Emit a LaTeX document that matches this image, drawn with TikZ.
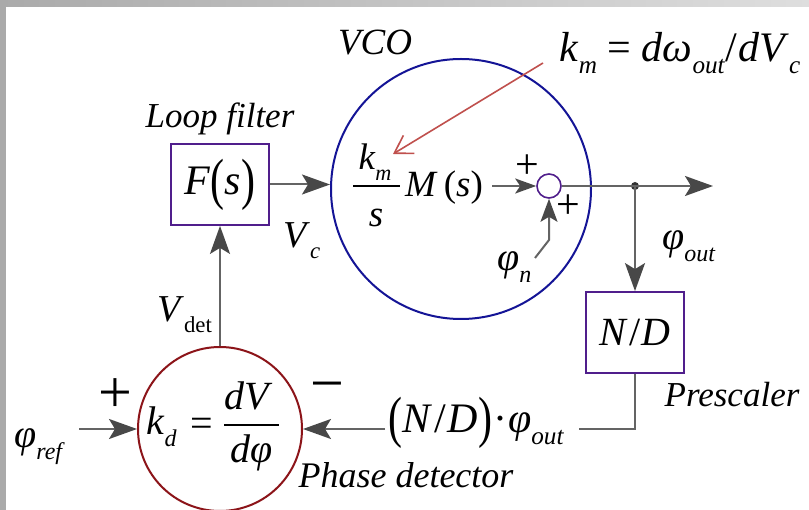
\documentclass[tikz,border=0pt]{standalone}
\usepackage{fontspec}
\setmainfont{Liberation Serif}
\usepackage{graphicx}
\usetikzlibrary{arrows.meta}
\definecolor{boxpurple}{RGB}{80,30,140}
\definecolor{vcoblue}{RGB}{20,20,150}
\definecolor{pdred}{RGB}{140,20,25}
\definecolor{linegray}{RGB}{100,100,100}
\definecolor{tipgray}{RGB}{72,72,72}
\definecolor{redc}{RGB}{192,80,77}
\definecolor{dotgray}{RGB}{50,50,50}
\definecolor{topl}{RGB}{170,170,170}
\definecolor{topr}{RGB}{222,222,222}
\definecolor{sidegray}{RGB}{170,170,170}
\newcommand\vi[1]{\textit{#1}}
\newcommand\sbi[1]{\raisebox{-0.28em}{\scalebox{0.6}{\itshape #1}}}
\newcommand\sbu[1]{\raisebox{-0.28em}{\scalebox{0.6}{#1}}}
\newcommand\tallp[1]{\raisebox{-0.09em}{\scalebox{1}[1.35]{#1}}}
\tikzset{
  conn/.style={draw=linegray, line width=2pt},
  arr/.style={conn, -{Stealth[length=28pt,width=20pt,inset=6pt,color=tipgray]}},
  arrsm/.style={conn, -{Stealth[length=21pt,width=15pt,inset=5pt,color=tipgray]}},
  arrmid/.style={conn, -{Stealth[length=23pt,width=17pt,inset=5pt,color=tipgray]}},
  blockbox/.style={draw=boxpurple, line width=1.8pt, minimum width=98pt, minimum height=81pt, inner sep=0pt, fill=white},
  lbl/.style={font=\fontsize{35}{40}\selectfont\itshape, inner sep=0pt},
  mth/.style={font=\fontsize{40}{48}\selectfont, inner sep=0pt},
  mthv/.style={font=\fontsize{37}{44}\selectfont, inner sep=0pt},
  fracbar/.style={draw=black, line width=1.4pt},
  redarr/.style={draw=redc, line width=1.6pt, -{Straight Barb[length=17pt,width=21pt]}},
  bigsign/.style={font=\fontsize{60}{60}\selectfont, inner sep=0pt},
  smallsign/.style={font=\fontsize{42}{42}\selectfont, inner sep=0pt},
}
\begin{document}
\begin{tikzpicture}[x=1pt,y=-1pt]
\useasboundingbox (0,0) rectangle (809,510);
\fill[white] (0,0) rectangle (809,510);
\shade[left color=topl, right color=topr] (0,0) rectangle (809,7);
\fill[sidegray] (0,0) rectangle (6,510);

% VCO
\node[circle, draw=vcoblue, line width=2pt, minimum size=260pt, inner sep=0pt] (VCO) at (461,189) {};
\node[lbl, font=\fontsize{37}{42}\selectfont\itshape, anchor=base] (vcolbl) at (375,55) {VCO};
\node[mthv, anchor=base] (km) at (375,170) {\vi{k}\sbi{m}};
\draw[fracbar] (353,186) -- (400,186);
\node[mthv, anchor=base] (kms) at (376,227) {\vi{s}};
\node[mthv, anchor=base west] (Ms) at (405,197) {\vi{M}\,(\vi{s})};

% summer
\node[circle, draw=boxpurple, line width=1.6pt, minimum size=24pt, inner sep=0pt] (S) at (549,186) {};
\node[smallsign] (p1) at (527,167) {+};
\node[smallsign] (p2) at (568,207) {+};
\draw[arrsm, shorten <=9pt] (Ms.east |- S.west) -- (S.west);
\node[mth, anchor=base west] (phin) at (497,271) {\vi{φ}\sbi{n}};
\coordinate (pn1) at (535,258);
\coordinate (pnk) at (549,240);
\draw[arrmid] (pn1) -- (pnk) -- (S.south);

% loop filter
\node[blockbox] (F) at (220,184.5) {\fontsize{42}{42}\selectfont\vi{F}\tallp{(}\vi{s}\tallp{)}};
\node[lbl, anchor=base] (lflbl) at (220,128) {Loop filter};
\draw[arr] (F.east) -- (F.east -| VCO.west);
\node[mth, font=\fontsize{38}{44}\selectfont, anchor=base west] (vc) at (283,248) {\vi{V}\sbi{c}};

% output
\node[circle, fill=dotgray, minimum size=8pt, inner sep=0pt] (dot) at (635,186) {};
\coordinate (outend) at (713,186);
\draw[conn] (S.east) -- (dot.center);
\draw[arr] (dot.center) -- (outend);
\node[mth, anchor=base west] (phiout) at (662,250) {\vi{φ}\sbi{out}};

% prescaler
\node[blockbox] (ND) at (635,332.5) {\fontsize{40}{40}\selectfont\vi{N}\kern1pt/\kern1pt\vi{D}};
\draw[arr] (dot.center) -- (ND.north);
\node[lbl, anchor=base] (prelbl) at (732,407) {Prescaler};
\coordinate (fbc) at (635,429);
\coordinate (fbe) at (579,429);
\draw[conn] (ND.south) -- (fbc) -- (fbe);
\node[mth, font=\fontsize{42}{48}\selectfont, anchor=base west, inner sep=3pt] (ndt) at (385,433) {\tallp{(}\vi{N}\kern2pt/\kern2pt\vi{D}\tallp{)}\kern1pt·\kern1pt\vi{φ}\sbi{out}};

% phase detector
\node[circle, draw=pdred, line width=2pt, minimum size=164pt, inner sep=0pt] (PD) at (220,429) {};
\node[mth, anchor=base west] (kd) at (146,435) {\vi{k}\sbi{d}};
\node[mth, anchor=base] (eq) at (202,437) {=};
\node[mth, anchor=base] (dV) at (249,410) {\vi{dV}};
\draw[fracbar] (224,425) -- (279,425);
\node[mth, anchor=base] (dphi) at (252,463) {\vi{dφ}};
\draw[arr] (ndt.west |- PD.east) -- (PD.east);
\coordinate (refs) at (79,429);
\draw[arr] (refs) -- (PD.west);
\node[mth, anchor=base west] (phiref) at (14,448) {\vi{φ}\sbi{ref}};
\node[bigsign] (pplus) at (115,396) {+};
\node[bigsign] (pminus) at (327,393) {−};
\node[lbl, font=\fontsize{36}{40}\selectfont\itshape, anchor=base] (pdlbl) at (406,488) {Phase detector};
\draw[arr] (PD.north) -- (F.south);
\node[mth, font=\fontsize{38}{44}\selectfont, anchor=base west] (vdet) at (157,322) {\vi{V}\sbu{det}};

% km label and red arrow
\node[mth, font=\fontsize{42}{48}\selectfont, anchor=base] (kmlbl) at (680,62) {\vi{k}\sbi{m} = \vi{dω}\sbi{out}\kern1pt/\kern1pt\vi{dV}\sbi{c}};
\coordinate (rstart) at (543,63);
\coordinate (rtip) at (393,154);
\draw[redarr] (rstart) -- (rtip);
\end{tikzpicture}
\end{document}
